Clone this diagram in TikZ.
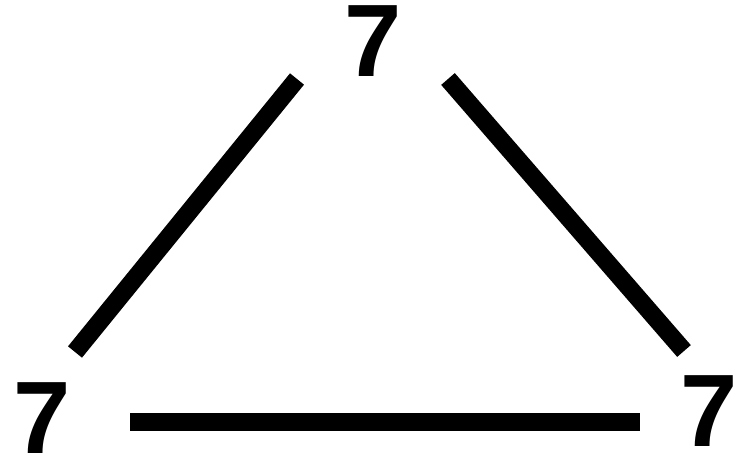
\documentclass[tikz,border=0pt]{standalone}
\usepackage{fontspec}
\setmainfont{Liberation Sans}
\begin{document}
\begin{tikzpicture}[x=1pt,y=-1pt,
  digit/.style={font=\fontsize{103}{103}\selectfont\bfseries, inner sep=0pt},
  edge/.style={line width=18pt, line cap=butt}]
\useasboundingbox (0,0) rectangle (739,457);
\node[digit] (t) at (373,41) {7};
\node[digit] (l) at (42,418) {7};
\node[digit] (r) at (709,411) {7};
\coordinate (tl) at (297,79);
\coordinate (lt) at (75,352);
\coordinate (tr) at (448,79);
\coordinate (rt) at (684,351);
\coordinate (lr) at (130,422);
\coordinate (rl) at (640,422);
\draw[edge] (tl) -- (lt);
\draw[edge] (tr) -- (rt);
\draw[edge] (lr) -- (rl);
\end{tikzpicture}
\end{document}
